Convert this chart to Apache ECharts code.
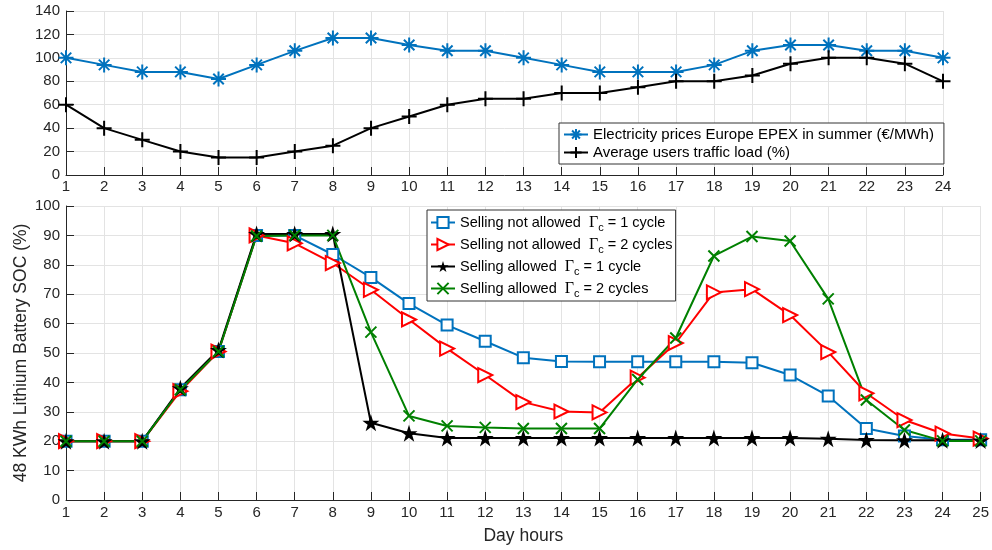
<!DOCTYPE html>
<html><head><meta charset="utf-8">
<script src="https://cdn.jsdelivr.net/npm/echarts@6/dist/echarts.min.js"></script>
<style>html,body{margin:0;padding:0;background:#fff}#c{width:992px;height:550px}</style>
</head><body><div id="c"></div>
<script>
// ---- data ----
const topHours = [1,2,3,4,5,6,7,8,9,10,11,12,13,14,15,16,17,18,19,20,21,22,23,24];
const prices = [100,94,88,88,82,94,106,117,117,111,106,106,100,94,88,88,88,94,106,111,111,106,106,100];
const trafficLoad = [60,40,30,20,15,15,20,25,40,50,60,65,65,70,70,75,80,80,85,95,100,100,95,80];

const bottomHours = [1,2,3,4,5,6,7,8,9,10,11,12,13,14,15,16,17,18,19,20,21,22,23,24,25];
const noSell1 = [20,20,20,37.5,50.5,90,90,83.5,75.7,66.8,59.5,54,48.4,47.1,47,47,47,47,46.7,42.5,35.4,24.3,21.8,20.5,20.5];
const noSell2 = [20,20,20,37,50.5,90,87.3,80.6,71.5,61.4,51.5,42.5,33.3,30.1,29.8,41.6,53.4,70.6,71.7,62.9,50.3,36.3,27.2,22.6,20.9];
const sell1 = [20,20,20,38,51,90.5,90.5,90.5,26.3,22.7,21.1,21.1,21.1,21.1,21.1,21.1,21.1,21.1,21.1,21.1,20.8,20.4,20.3,20.3,20.2];
const sell2 = [20,20,20,37.5,50.5,89.8,90,90,57.1,28.6,25.2,24.7,24.3,24.3,24.3,41,55.1,83,89.6,88.1,68.4,34,23.8,20.1,20.1];

const topNames = ['Electricity prices Europe EPEX in summer (€/MWh)', 'Average users traffic load (%)'];
const bottomNames = ['Selling not allowed  {g|Γ}{s|c}{t| = 1 cycle}', 'Selling not allowed  {g|Γ}{s|c}{t| = 2 cycles}',
                     'Selling allowed  {g|Γ}{s|c}{t| = 1 cycle}', 'Selling allowed  {g|Γ}{s|c}{t| = 2 cycles}'];

// ---- helpers ----
const pairs = (xs, ys) => xs.map((x, i) => [x, ys[i]]);
const AX = '#262626', GRID = '#e3e3e3', FONT = 'Liberation Sans';
const asterisk = 'path://M0,-10L0,10M-10,0L10,0M-7,-7L7,7M-7,7L7,-7';
const plus = 'path://M0,-10L0,10M-10,0L10,0';
const cross = 'path://M-10,-10L10,10M-10,10L10,-10';
const star = 'path://M0,-10L2.25,-3.09L9.51,-3.09L3.63,1.18L5.88,8.09L0,3.82L-5.88,8.09L-3.63,1.18L-9.51,-3.09L-2.25,-3.09Z';

function xAx(gi, max, margin, name) {
  return {
    type: 'value', gridIndex: gi, min: 1, max: max, interval: 1,
    axisLine: {lineStyle: {color: AX, width: 1}},
    axisTick: {inside: true, length: 8, lineStyle: {color: AX}},
    axisLabel: {color: AX, fontSize: 15, fontFamily: FONT, margin: margin},
    splitLine: {show: true, lineStyle: {color: GRID, width: 1}},
    name: name || '', nameLocation: 'middle', nameGap: 27, nameMoveOverlap: false,
    nameTextStyle: {color: AX, fontSize: 17.5, fontFamily: FONT}
  };
}
function yAx(gi, max, interval, name) {
  return {
    type: 'value', gridIndex: gi, min: 0, max: max, interval: interval,
    axisLine: {show: true, lineStyle: {color: AX, width: 1}},
    axisTick: {show: true, inside: true, length: 8, lineStyle: {color: AX}},
    axisLabel: {color: AX, fontSize: 15, fontFamily: FONT, margin: 6},
    splitLine: {show: true, lineStyle: {color: GRID, width: 1}},
    name: name || '', nameLocation: 'middle', nameGap: 36, nameRotate: 90, nameMoveOverlap: false,
    nameTextStyle: {color: AX, fontSize: 17.5, fontFamily: FONT}
  };
}
function strokeSeries(name, xi, data, color, symbol, size) {
  return {
    type: 'line', name: name, xAxisIndex: xi, yAxisIndex: xi, data: data,
    symbol: symbol, symbolSize: size, showSymbol: true,
    lineStyle: {color: color, width: 2},
    itemStyle: {color: 'rgba(0,0,0,0)', borderColor: color, borderWidth: 2},
    color: color, animation: false, emphasis: {disabled: true}
  };
}

const legendText = {
  fontSize: 14.5, fontFamily: FONT, color: '#000',
  rich: {
    t: {fontSize: 14.5, fontFamily: FONT, color: '#000'},
    g: {fontSize: 16, fontFamily: 'Liberation Serif', color: '#000'},
    s: {fontSize: 11, fontFamily: FONT, color: '#000', lineHeight: 12, padding: [10, 0, 0, 0]}
  }
};

const option = {
  backgroundColor: '#fff',
  animation: false,
  grid: [
    {left: 66, right: 49, top: 11, height: 164},
    {left: 66, right: 10, top: 206, height: 295}
  ],
  xAxis: [xAx(0, 24, 4), xAx(1, 25, 5, 'Day hours')],
  yAxis: [yAx(0, 140, 20), yAx(1, 100, 10, '48 KWh Lithium Battery SOC (%)')],
  legend: [
    {
      data: topNames, orient: 'vertical', left: 559, top: 123,
      itemWidth: 24, itemHeight: 14, itemGap: 3,
      padding: [4, 10, 4, 4],
      backgroundColor: '#fff', borderColor: '#333', borderWidth: 1,
      textStyle: {fontSize: 15, fontFamily: FONT, color: '#000'}
    },
    {
      data: bottomNames, orient: 'vertical', left: 427, top: 210,
      itemWidth: 24, itemHeight: 14, itemGap: 1,
      padding: [2, 3, 2, 3],
      backgroundColor: '#fff', borderColor: '#333', borderWidth: 1,
      textStyle: legendText
    }
  ],
  series: [
    strokeSeries(topNames[0], 0, pairs(topHours, prices), '#0072BD', asterisk, 15),
    strokeSeries(topNames[1], 0, pairs(topHours, trafficLoad), '#000000', plus, 15),
    {
      type: 'line', name: bottomNames[0], xAxisIndex: 1, yAxisIndex: 1, data: pairs(bottomHours, noSell1),
      symbol: 'emptyRect', symbolSize: 11, lineStyle: {color: '#0072BD', width: 2},
      itemStyle: {color: '#0072BD', borderColor: '#0072BD', borderWidth: 2}, color: '#0072BD', emphasis: {disabled: true}
    },
    {
      type: 'line', name: bottomNames[1], xAxisIndex: 1, yAxisIndex: 1, data: pairs(bottomHours, noSell2),
      symbol: 'emptyTriangle', symbolRotate: -90, symbolSize: 14, lineStyle: {color: '#FF0000', width: 2},
      itemStyle: {color: '#FF0000', borderColor: '#FF0000', borderWidth: 2}, color: '#FF0000', emphasis: {disabled: true}
    },
    {
      type: 'line', name: bottomNames[2], xAxisIndex: 1, yAxisIndex: 1, data: pairs(bottomHours, sell1),
      symbol: star, symbolSize: 17, lineStyle: {color: '#000', width: 2},
      itemStyle: {color: '#000', borderColor: '#000', borderWidth: 0}, color: '#000', emphasis: {disabled: true}
    },
    strokeSeries(bottomNames[3], 1, pairs(bottomHours, sell2), '#008000', cross, 11)
  ]
};

const chart = echarts.init(document.getElementById('c'), null, {renderer: 'canvas'});
chart.setOption(option);
</script></body></html>
